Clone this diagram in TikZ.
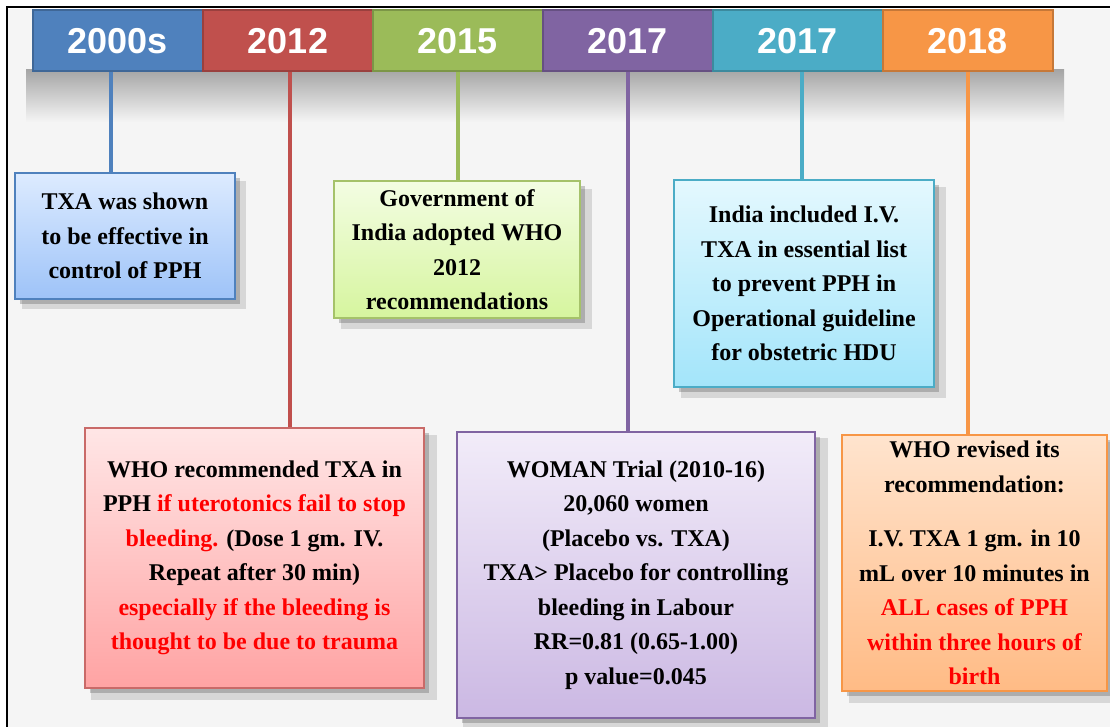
\documentclass[tikz,border=0pt]{standalone}
\usepackage{fontspec}
\setmainfont{Liberation Serif}
\newfontfamily\yearfont{Liberation Sans}
\usetikzlibrary{shadows}
\definecolor{cblue}{HTML}{4F81BD}
\definecolor{cred}{HTML}{C0504D}
\definecolor{cgreen}{HTML}{9BBB59}
\definecolor{cpurple}{HTML}{8064A2}
\definecolor{cteal}{HTML}{4BACC6}
\definecolor{corange}{HTML}{F79646}
\definecolor{hot}{HTML}{FF0000}
\definecolor{bluetop}{HTML}{DDEBFF}\definecolor{bluebot}{HTML}{9EC3F8}
\definecolor{greentop}{HTML}{F3FDE3}\definecolor{greenbot}{HTML}{D6F59E}
\definecolor{tealtop}{HTML}{E4F8FE}\definecolor{tealbot}{HTML}{A3E5FA}
\definecolor{redtop}{HTML}{FFE6E6}\definecolor{redbot}{HTML}{FFA3A3}
\definecolor{purptop}{HTML}{F2ECF9}\definecolor{purpbot}{HTML}{CBB8E3}
\definecolor{orgtop}{HTML}{FFE4CE}\definecolor{orgbot}{HTML}{FFBB85}
\tikzset{
  year/.style={draw=#1!80!black, fill=#1, line width=2pt, minimum width=170pt, minimum height=61pt,
    inner sep=0pt, font=\yearfont\bfseries\fontsize{36}{36}\selectfont, text=white},
  stem/.style={draw=#1, line width=3.5pt},
  card/.style={line width=1.5pt, inner sep=0pt, align=center,
    font=\fontsize{24}{34.5}\selectfont\bfseries,
    drop shadow={shadow xshift=9pt, shadow yshift=-9pt, opacity=0.12, fill=black, shadow scale=1.02},
    drop shadow={shadow xshift=5pt, shadow yshift=-5pt, opacity=0.25, fill=black!80}},
}
\begin{document}
\begin{tikzpicture}[x=1pt,y=-1pt]
\useasboundingbox (0,0) rectangle (1110,727);
\fill[white] (0,0) rectangle (1110,727);
\fill[black!4] (8,9) rectangle (1110,727);
% bar shadow
\shade[top color=black!35, bottom color=black!4] (26,70) rectangle (1064,122);
% frame
\draw[line width=2pt, black] (6.5,727) -- (6.5,7.5) -- (1110,7.5);
% year bar
\node[year=cblue]   (y1) at (117.5,41) {2000s};
\node[year=cred]    (y2) at (288,41) {2012};
\node[year=cgreen]  (y3) at (457.5,41) {2015};
\node[year=cpurple] (y4) at (627.5,41) {2017};
\node[year=cteal]   (y5) at (797.5,41) {2017};
\node[year=corange] (y6) at (967.5,41) {2018};
% cards
\node[card, draw=cblue, top color=bluetop, bottom color=bluebot,
  minimum width=220pt, minimum height=126pt] (b1) at (125,236)
  {TXA was shown\\to be effective in\\control of PPH};
\node[card, draw=cgreen!90!white, top color=greentop, bottom color=greenbot,
  minimum width=246pt, minimum height=137pt] (b3) at (457,249.5)
  {Government of\\India adopted WHO\\2012\\recommendations};
\node[card, draw=cteal, top color=tealtop, bottom color=tealbot,
  minimum width=260pt, minimum height=207pt] (b5) at (804,283.5)
  {India included I.V.\\TXA in essential list\\to prevent PPH in\\Operational guideline\\for obstetric HDU};
\node[card, draw=cred!85!white, top color=redtop, bottom color=redbot,
  minimum width=339pt, minimum height=260pt] (b2) at (254.5,558)
  {WHO recommended TXA in\\PPH \textcolor{hot}{if uterotonics fail to stop}\\\textcolor{hot}{bleeding.} (Dose 1 gm. IV.\\Repeat after 30 min)\\\textcolor{hot}{especially if the bleeding is}\\\textcolor{hot}{thought to be due to trauma}};
\node[card, draw=cpurple, top color=purptop, bottom color=purpbot,
  minimum width=358pt, minimum height=286pt] (b4) at (636,575)
  {WOMAN Trial (2010-16)\\20,060 women\\(Placebo vs. TXA)\\TXA> Placebo for controlling\\bleeding in Labour\\RR=0.81 (0.65-1.00)\\p value=0.045};
\node[card, draw=corange, top color=orgtop, bottom color=orgbot,
  minimum width=265pt, minimum height=256pt] (b6) at (974.5,563)
  {WHO revised its\\recommendation:\\[20pt]I.V. TXA 1 gm. in 10\\mL over 10 minutes in\\\textcolor{hot}{ALL cases of PPH}\\\textcolor{hot}{within three hours of}\\\textcolor{hot}{birth}};
% stems
\draw[stem=cblue]   (111,0 |- y1.south) -- (111,0 |- b1.north);
\draw[stem=cred]    (290,0 |- y2.south) -- (290,0 |- b2.north);
\draw[stem=cgreen]  (458,0 |- y3.south) -- (458,0 |- b3.north);
\draw[stem=cpurple] (628,0 |- y4.south) -- (628,0 |- b4.north);
\draw[stem=cteal]   (802,0 |- y5.south) -- (802,0 |- b5.north);
\draw[stem=corange] (968,0 |- y6.south) -- (968,0 |- b6.north);
\end{tikzpicture}
\end{document}
